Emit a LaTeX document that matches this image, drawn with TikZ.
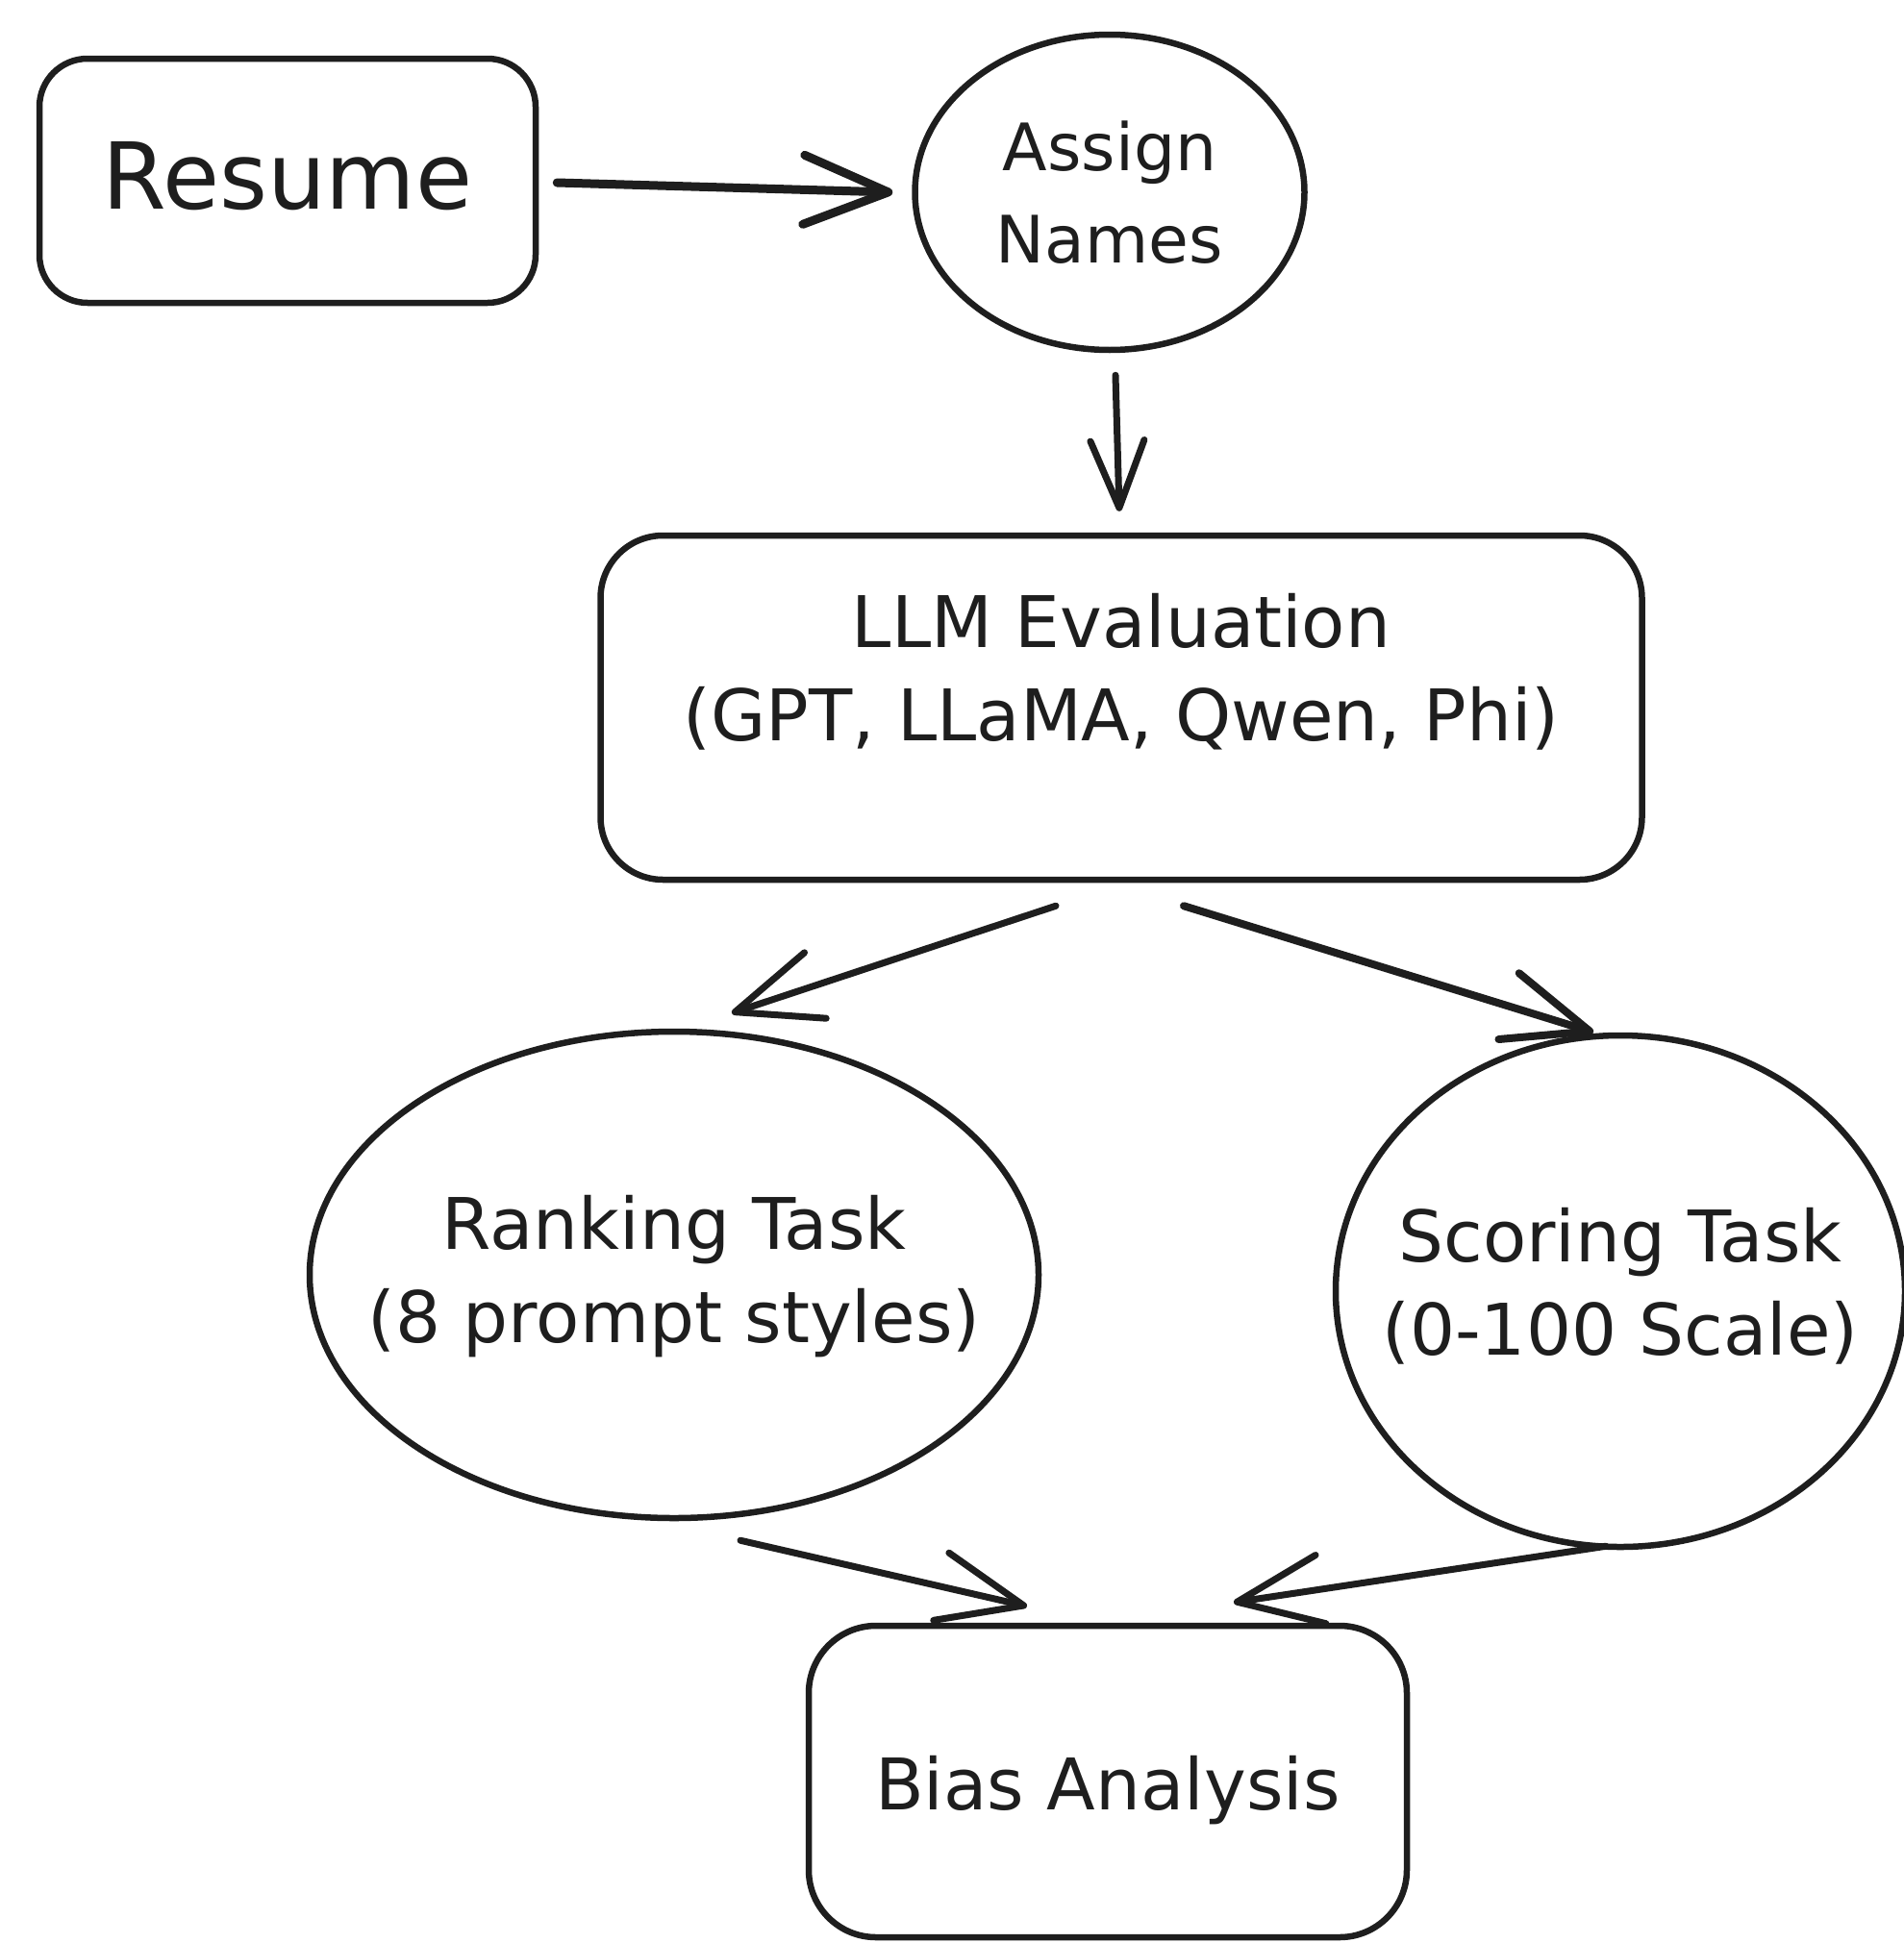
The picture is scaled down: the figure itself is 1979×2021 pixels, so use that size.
\documentclass[tikz,border=0pt]{standalone}
\usepackage{fontspec}
\setmainfont{DejaVu Sans}
\usetikzlibrary{shapes.geometric,arrows.meta}
\definecolor{ink}{HTML}{1E1E1E}
\begin{document}
\begin{tikzpicture}[x=1pt,y=-1pt,
  basenode/.style={draw=ink, line width=6.5pt, inner sep=0pt, align=center, text=ink,
    font=\fontsize{74}{97}\selectfont},
  boxnode/.style={basenode, rectangle, rounded corners=55pt},
  ovalnode/.style={basenode, ellipse},
  labelnode/.style={inner sep=0pt, align=center, text=ink, font=\fontsize{74}{97}\selectfont},
  conn/.style={draw=ink, line width=7pt, line cap=round, line join=round,
    -{Straight Barb[length=88pt,width=72pt,round]}}
]
\fill[white] (0,0) rectangle (1979,2021);
\useasboundingbox (0,0) rectangle (1979,2021);

\node[boxnode, minimum width=516pt, minimum height=254pt, rounded corners=50pt] (resume) at (299,188) {};
\node[labelnode, font=\fontsize{96}{110}\selectfont] (resumetext) at ([yshift=5pt]resume.center) {Resume};

\node[ovalnode, minimum width=405pt, minimum height=328pt] (assign) at (1154,200) {};
\node[labelnode, font=\fontsize{68}{96}\selectfont] (assigntext) at (assign) {Assign\\Names};

\node[boxnode, minimum width=1083pt, minimum height=358pt, rounded corners=65pt] (llm) at (1166,736) {};
\node[labelnode] (llmtext) at ([yshift=37pt]llm.center) {LLM Evaluation\\(GPT, LLaMA, Qwen, Phi)};

\node[ovalnode, minimum width=758pt, minimum height=506pt] (rank) at (701,1326) {};
\node[labelnode] (ranktext) at ([yshift=-2pt]rank.center) {Ranking Task\\(8 prompt styles)};

\node[ovalnode, minimum width=592pt, minimum height=532pt] (score) at (1685,1343) {};
\node[labelnode] (scoretext) at ([yshift=5pt]score.center) {Scoring Task\\(0-100 Scale)};

\node[boxnode, minimum width=622pt, minimum height=324pt, rounded corners=70pt] (bias) at (1152,1853) {};
\node[labelnode] (biastext) at ([yshift=-9pt]bias.center) {Bias Analysis};

\draw[conn, line width=9pt] ([shift={(19,2)}]resume.east) -- ([shift={(-20,0)}]assign.west);
\draw[conn, -{Straight Barb[length=70pt,width=56pt,round]}] ([shift={(6,23)}]assign.south) -- ([shift={(-2,-22)}]llm.north);
\draw[conn] ([shift={(-68,24)}]llm.south) -- ([shift={(60,-16)}]rank.north);
\draw[conn, line width=8pt] ([shift={(65,24)}]llm.south) -- ([shift={(-28,0)}]score.north);
\draw[conn] ([shift={(69,20)}]rank.south) -- ([shift={(-84,-17)}]bias.north);
\draw[conn] ([shift={(-15,-4)}]score.south) -- ([shift={(131,-21)}]bias.north);
\end{tikzpicture}
\end{document}
